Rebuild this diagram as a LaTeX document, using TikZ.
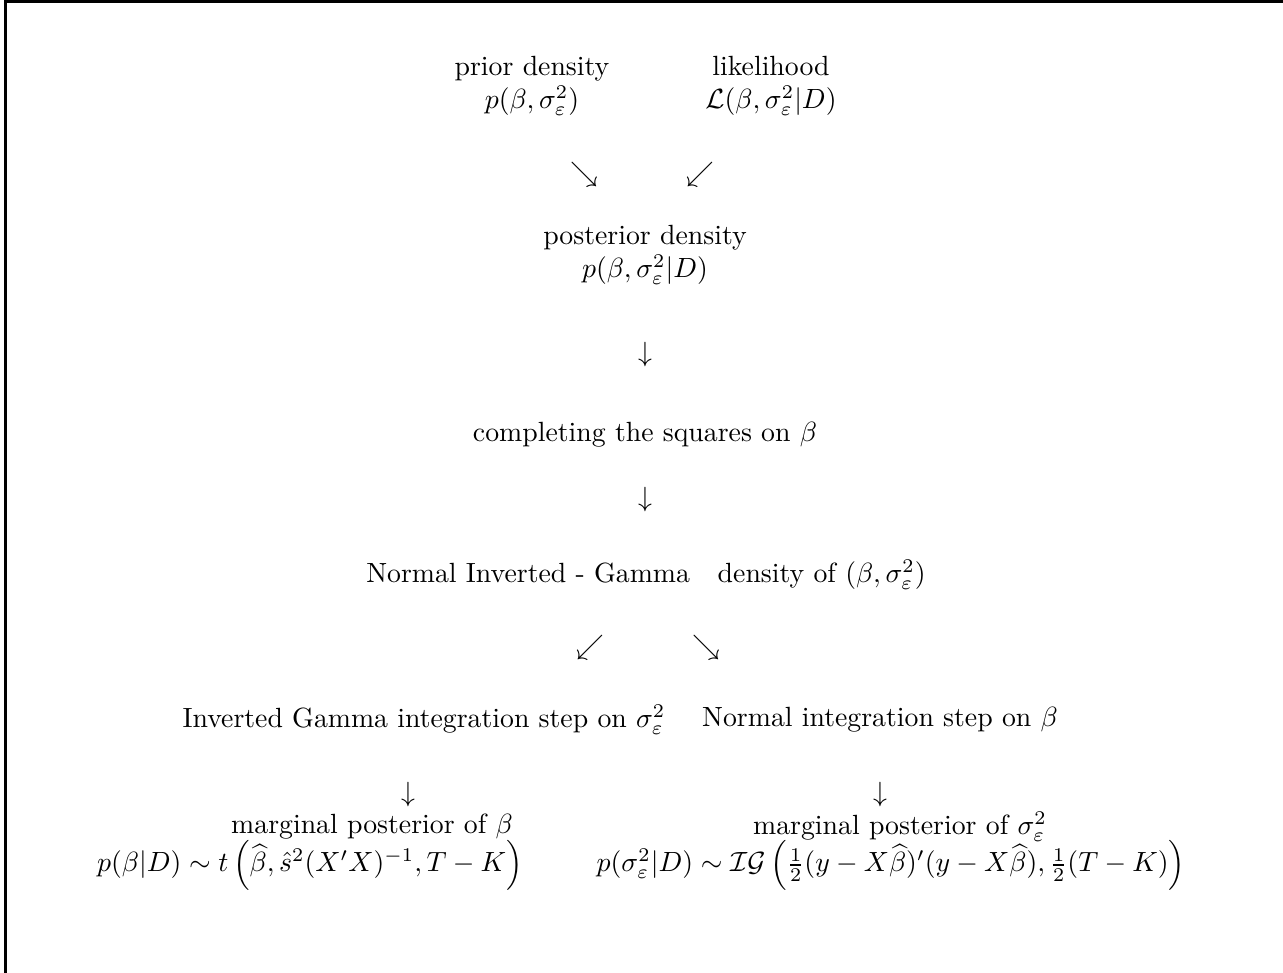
\documentclass[tikz,border=0pt]{standalone}
\usepackage{amsmath,amssymb}
\usepackage{tikz}

\begin{document}
\begin{tikzpicture}[
    x=0.012642cm, y=-0.012642cm,
    lbl/.style={align=center,inner sep=0pt},
    arr/.style={inner sep=0pt},
    frame/.style={line width=1.1pt}
  ]
  \useasboundingbox (0,0) rectangle (1283,973);
  \draw[frame] (5.5,973) -- (5.5,1.5) -- (1283,1.5);

  % top: prior and likelihood
  \node[lbl] (prior) at (532,86) {prior density \\ $p(\beta,\sigma^2_\varepsilon)$};
  \node[lbl] (lik) at (771,86) {likelihood \\ $\mathcal{L}(\beta,\sigma^2_\varepsilon|D)$};
  \node[arr] (a1) at (584,175) {$\searrow$};
  \node[arr] (a2) at (700,175) {$\swarrow$};

  % posterior
  \node[lbl] (post) at (645,255) {posterior density \\ $p(\beta,\sigma^2_\varepsilon|D)$};
  \node[arr] (a3) at (645,355) {$\downarrow$};
  \node[lbl] (compl) at (645,435) {completing the squares on $\beta$};
  \node[arr] (a4) at (645,500) {$\downarrow$};
  \node[lbl] (nig) at (646,575) {Normal Inverted - Gamma\quad density of $(\beta,\sigma^2_\varepsilon)$};
  \node[arr] (a5) at (590,648) {$\swarrow$};
  \node[arr] (a6) at (706,648) {$\searrow$};

  % integration steps
  \node[lbl] (igstep) at (424,720) {Inverted Gamma integration step on $\sigma^2_\varepsilon$};
  \node[lbl] (nstep) at (880,720) {Normal integration step on $\beta$};
  \node[arr] (a7) at (408,795) {$\downarrow$};
  \node[arr] (a8) at (880,795) {$\downarrow$};

  % marginal posteriors
  \node[lbl] (margb) at (372,827) {marginal posterior of $\beta$};
  \node[lbl] (margbf) at (310,865)
    {$p(\beta|D)\sim t\left(\widehat{\beta},\hat{s}^2(X'X)^{-1},T-K\right)$};
  \node[lbl] (margs) at (900,827) {marginal posterior of $\sigma^2_\varepsilon$};
  \node[lbl] (margsf) at (891,865)
    {$p(\sigma^2_\varepsilon|D)\sim\mathcal{IG}\left(\tfrac{1}{2}(y-X\widehat{\beta})'(y-X\widehat{\beta}),\tfrac{1}{2}(T-K)\right)$};
\end{tikzpicture}
\end{document}
